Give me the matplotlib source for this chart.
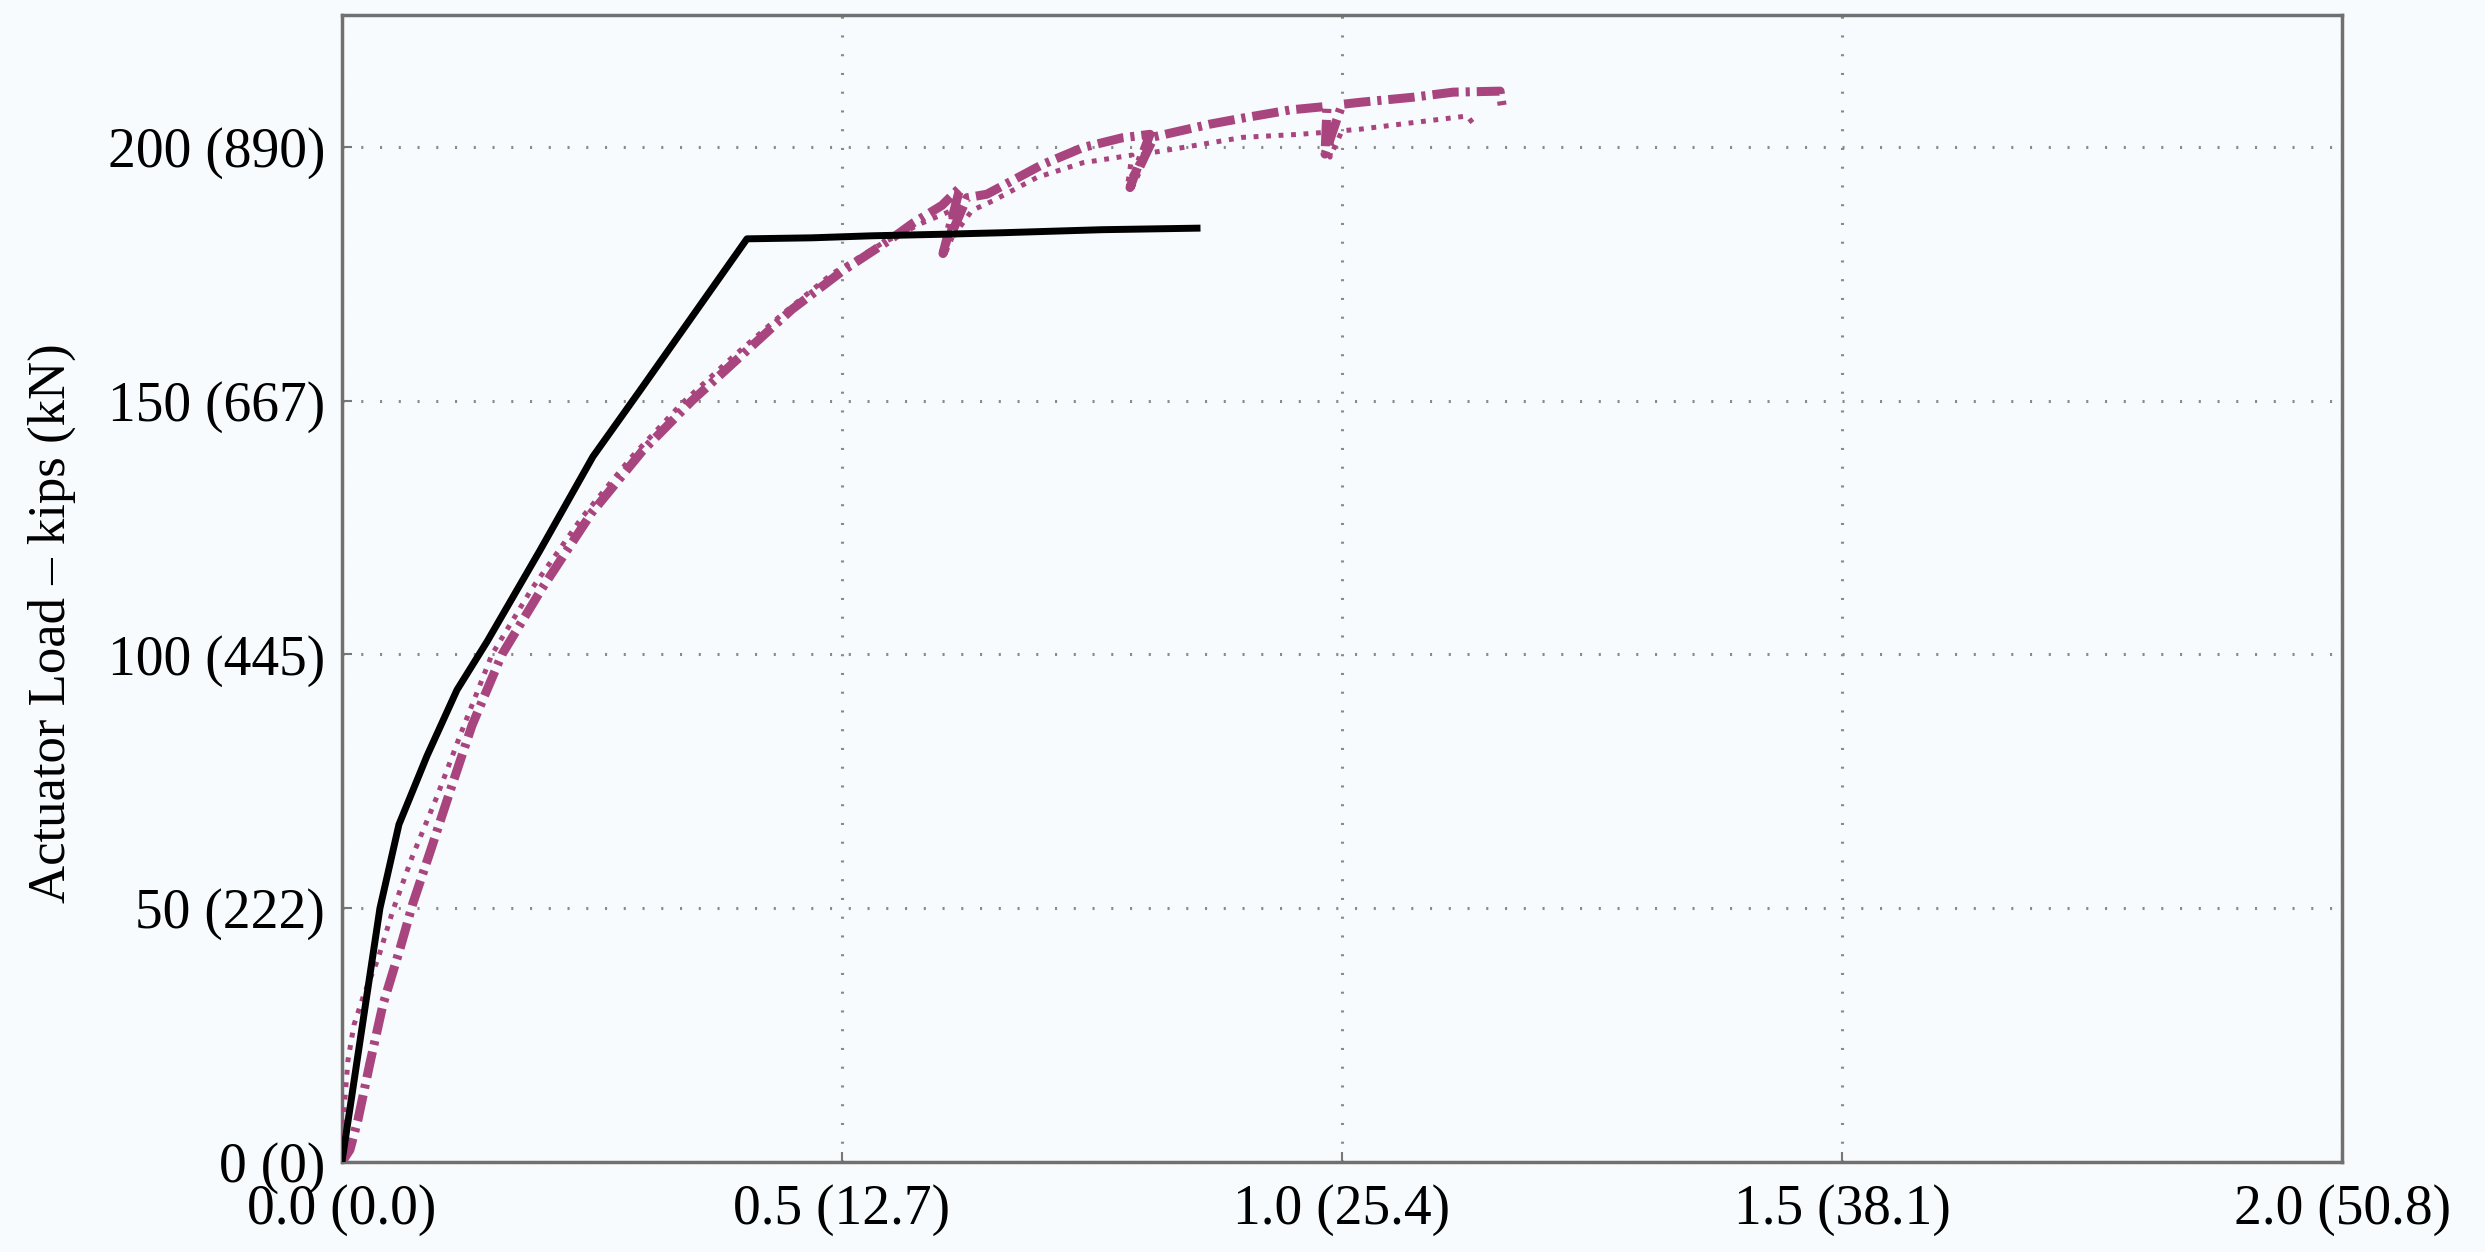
import matplotlib
matplotlib.use('Agg')
import matplotlib.pyplot as plt

# model (solid black)
model_x = [0.0, 0.022, 0.038, 0.057, 0.085, 0.115, 0.145, 0.198, 0.251, 0.298,
           0.405, 0.47, 0.53, 0.60, 0.66, 0.76, 0.855]
model_y = [0.0, 29.0, 50.0, 66.5, 80.0, 93.0, 102.5, 120.5, 139.0, 152.0,
           181.9, 182.1, 182.5, 182.8, 183.1, 183.7, 184.0]

# test, dash-dot magenta
test1_x = [0.0, 0.008, 0.016, 0.028, 0.041, 0.058, 0.071, 0.088, 0.108, 0.13,
           0.16, 0.2, 0.25, 0.3, 0.35, 0.4, 0.45, 0.5, 0.55, 0.571,
           0.6, 0.618, 0.601, 0.625, 0.645, 0.7, 0.741, 0.78, 0.808, 0.788,
           0.812, 0.868, 0.901, 0.948, 0.985, 0.983, 1.0, 1.018, 1.071, 1.111,
           1.158, 1.161]
test1_y = [0.0, 2.4, 8.3, 19.5, 31.0, 42.0, 51.0, 61.0, 73.0, 86.0,
           100.0, 113.0, 128.0, 140.0, 150.0, 159.0, 168.0, 175.5, 182.0, 185.0,
           188.5, 192.0, 179.0, 190.0, 190.7, 196.5, 199.9, 201.8, 202.5, 192.0,
           202.0, 204.5, 205.7, 207.3, 208.0, 198.6, 208.4, 208.8, 209.8, 210.8,
           211.0, 207.0]

# test, dotted magenta
test2_x = [0.0, 0.002, 0.006, 0.012, 0.022, 0.036, 0.051, 0.07, 0.095, 0.12,
           0.15, 0.19, 0.24, 0.29, 0.34, 0.39, 0.44, 0.49, 0.54, 0.58,
           0.61, 0.606, 0.63, 0.651, 0.695, 0.741, 0.79, 0.786, 0.801, 0.841,
           0.901, 0.958, 0.99, 0.988, 1.0, 1.018, 1.071, 1.125, 1.135]
test2_y = [0.0, 10.0, 20.0, 27.0, 33.0, 40.0, 49.6, 60.0, 72.0, 85.0,
           100.0, 113.0, 127.0, 139.0, 149.5, 158.5, 167.0, 175.0, 181.0, 185.0,
           187.5, 181.0, 187.5, 189.4, 194.0, 196.9, 198.4, 193.0, 198.6, 199.9,
           201.9, 202.5, 203.0, 198.0, 203.2, 203.5, 204.8, 206.1, 203.7]

xticks = [0.0, 0.5, 1.0, 1.5, 2.0]
xtick_labels = ['0.0 (0.0)', '0.5 (12.7)', '1.0 (25.4)', '1.5 (38.1)', '2.0 (50.8)']
yticks = [0, 50, 100, 150, 200]
ytick_labels = ['0 (0)', '50 (222)', '100 (445)', '150 (667)', '200 (890)']

plt.rcParams['font.family'] = ['Liberation Serif', 'DejaVu Serif']
plt.rcParams['lines.scale_dashes'] = False

bg = '#f8fbfd'
magenta = '#a8457f'

fig = plt.figure(figsize=(24.85, 12.52), dpi=100, facecolor=bg)
ax = fig.add_axes([0.1376, 0.0719, 0.8049, 0.9161])
ax.set_facecolor(bg)

ax.plot(test2_x, test2_y, color=magenta, lw=3.6, dashes=(3.5, 5.5),
        dash_capstyle='butt', zorder=3)
ax.plot(test1_x, test1_y, color=magenta, lw=6.5, dashes=(19, 5, 3, 5),
        dash_capstyle='butt', zorder=3)
ax.plot(model_x, model_y, color='black', lw=5.0, zorder=4)

ax.set_xlim(0, 2.0)
ax.set_ylim(0, 226)
ax.set_xticks(xticks)
ax.set_xticklabels(xtick_labels)
ax.set_yticks(yticks)
ax.set_yticklabels(ytick_labels)
ax.tick_params(direction='in', length=7, width=1.5, color='#777777',
               labelsize=40, pad=12)
ax.tick_params(axis='x', pad=16)

ax.grid(True, color='#8a8a8a', lw=2.2, linestyle=(0, (1.5, 12)))
ax.set_axisbelow(True)
for s in ax.spines.values():
    s.set_color('#707070')
    s.set_linewidth(2.5)

ax.set_ylabel('Actuator Load – kips (kN)', fontsize=38)
ax.yaxis.set_label_coords(-0.133, 0.47)

plt.savefig('out.png', dpi=100, facecolor=bg)
